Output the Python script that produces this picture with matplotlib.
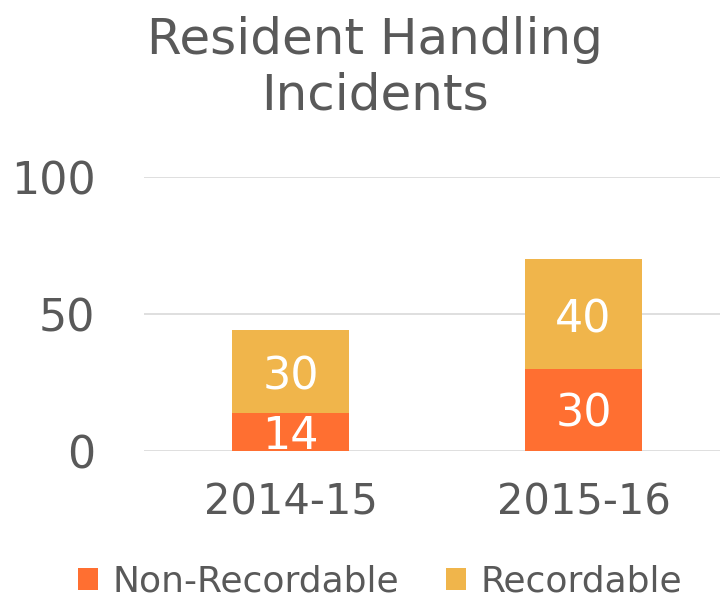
import matplotlib
matplotlib.use("Agg")
import matplotlib.pyplot as plt
import numpy as np

categories = ["2014-15", "2015-16"]
non_recordable = [14, 30]
recordable = [30, 40]
series_names = ["Non-Recordable", "Recordable"]
yticks = [0, 50, 100]

c_orange = "#FF6F31"
c_yellow = "#F0B54B"
c_text = "#595959"
c_grid = "#D9D9D9"

plt.rcParams['font.family'] = ['DejaVu Sans']

fig = plt.figure(figsize=(7.2, 6.03), dpi=100)
ax = fig.add_axes([0.2, 0.252, 0.814, 0.4544])

x = np.arange(len(categories))
w = 0.4
b1 = ax.bar(x, non_recordable, w, color=c_orange, label=series_names[0], zorder=3)
b2 = ax.bar(x, recordable, w, bottom=non_recordable, color=c_yellow, label=series_names[1], zorder=3)

for i in range(len(categories)):
    ax.annotate(str(non_recordable[i]), (x[i], non_recordable[i] / 2), xytext=(0, -3),
                textcoords='offset points', ha='center', va='center',
                color='white', fontsize=32, zorder=4)
    ax.annotate(str(recordable[i]), (x[i], non_recordable[i] + recordable[i] / 2),
                xytext=(0, -4), textcoords='offset points', ha='center',
                va='center', color='white', fontsize=32, zorder=4)

ax.set_xlim(-0.5, 1.5)
ax.set_ylim(0, 100)
ax.set_yticks(yticks)
ax.set_yticklabels([str(t) for t in yticks])
ax.set_xticks(x)
ax.set_xticklabels(categories)
ax.tick_params(axis='y', length=0, labelsize=32, labelcolor=c_text, pad=35)
ax.tick_params(axis='x', length=0, labelsize=30, labelcolor=c_text, pad=22)
ax.grid(axis='y', color=c_grid, linewidth=1.2, zorder=0)
for s in ax.spines.values():
    s.set_visible(False)

fig.text(375 / 720, 1 - 68 / 603, "Resident Handling\nIncidents", ha='center', va='center',
         fontsize=36, color=c_text, linespacing=1.2)

leg = fig.legend(handles=[b1, b2], labels=series_names, loc='center', ncol=2,
                 bbox_to_anchor=(380 / 720, 1 - 582 / 603), frameon=False, fontsize=26,
                 labelcolor=c_text, handlelength=0.55, handleheight=0.55, handletextpad=0.4,
                 columnspacing=1.3)

fig.savefig("out.png", dpi=100)
